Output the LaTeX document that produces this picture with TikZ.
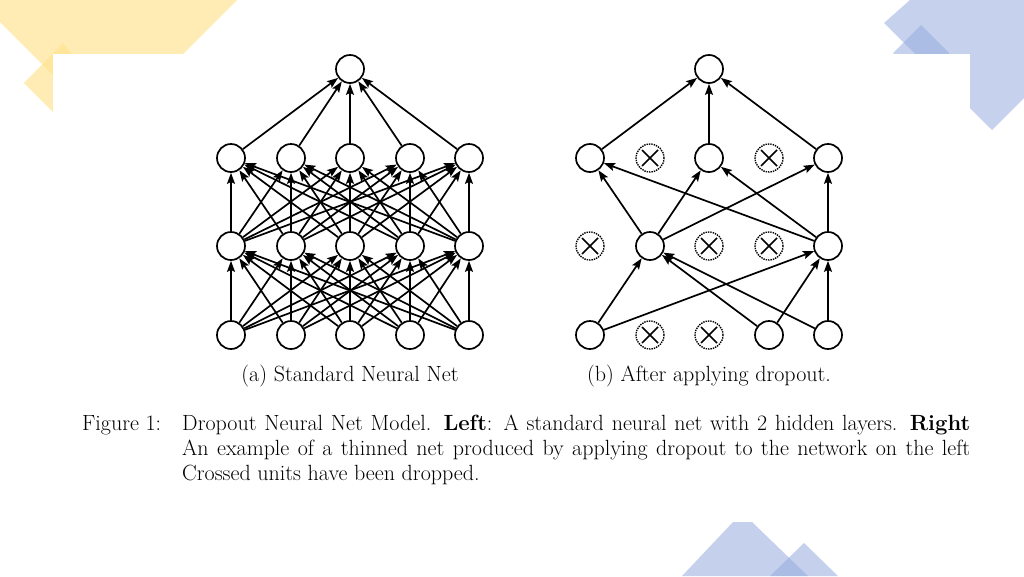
\documentclass[tikz,border=0pt]{standalone}
\usetikzlibrary{arrows.meta}
\begin{document}
\begin{tikzpicture}[x=1pt,y=-1pt,
 unit/.style={circle,draw,line width=1.7pt,minimum size=28pt,inner sep=0pt},
 drop/.style={circle,draw,densely dotted,line width=1.4pt,minimum size=28pt,inner sep=0pt,
   path picture={\draw[line width=1.6pt,solid] (path picture bounding box.center) +(-8,-8) -- +(8,8);
   \draw[line width=1.6pt,solid] (path picture bounding box.center) +(-8,8) -- +(8,-8);}},
 conn/.style={-{Stealth[length=11pt,width=8pt,inset=2pt]},line width=1.7pt},
 captxt/.style={font=\fontsize{22}{26}\selectfont,inner sep=0pt,anchor=base west}]
\useasboundingbox (0,0) rectangle (1024,576);
\definecolor{yel}{RGB}{255,226,140}
\definecolor{blu}{RGB}{150,172,222}
\fill[yel,opacity=0.65] (0,0)--(237,0)--(183,54)--(53,54)--(53,75)--(0,22)--cycle;
\fill[yel,opacity=0.65] (63,43)--(24,83)--(54,113)--(90,77)--cycle;
\fill[blu,opacity=0.55] (910,0)--(1024,0)--(1024,98)--(992,130)--(884,23)--cycle;
\fill[blu,opacity=0.55] (921,25)--(893,53)--(921,81)--(949,53)--cycle;
\fill[white] (53,54) rectangle (970,576);
\fill[blu,opacity=0.55] (682,576)--(733,522)--(752,522)--(808,576)--cycle;
\fill[blu,opacity=0.55] (770,576)--(804,543)--(838,576)--cycle;
% left net
\node[unit] (o) at (350,69) {};
\foreach \i/\x in {1/231,2/291,3/350,4/410,5/469}{
  \node[unit] (a\i) at (\x,158) {};
  \node[unit] (b\i) at (\x,246) {};
  \node[unit] (c\i) at (\x,335) {};
}
\foreach \i in {1,...,5}{
  \draw[conn] (a\i) -- (o);
  \foreach \j in {1,...,5}{
    \draw[conn] (b\i) -- (a\j);
    \draw[conn] (c\i) -- (b\j);
  }}
% right net
\node[unit] (ro) at (709,69) {};
\node[unit] (ra1) at (590,158) {};
\node[drop] (ra2) at (650,158) {};
\node[unit] (ra3) at (709,158) {};
\node[drop] (ra4) at (769,158) {};
\node[unit] (ra5) at (828,158) {};
\node[drop] (rb1) at (590,246) {};
\node[unit] (rb2) at (650,246) {};
\node[drop] (rb3) at (709,246) {};
\node[drop] (rb4) at (769,246) {};
\node[unit] (rb5) at (828,246) {};
\node[unit] (rc1) at (590,335) {};
\node[drop] (rc2) at (650,335) {};
\node[drop] (rc3) at (709,335) {};
\node[unit] (rc4) at (769,335) {};
\node[unit] (rc5) at (828,335) {};
\foreach \i in {1,3,5}{
  \draw[conn] (ra\i) -- (ro);
  \foreach \j in {2,5} \draw[conn] (rb\j) -- (ra\i);}
\foreach \i in {1,4,5}{
  \foreach \j in {2,5} \draw[conn] (rc\i) -- (rb\j);}
% captions
\node[captxt,anchor=base] (ca) at (350,381) {(a) Standard Neural Net};
\node[captxt,anchor=base] (cb) at (709,381) {(b) After applying dropout.};
\node[captxt] (f1) at (82,430) {Figure 1:};
\node[captxt] (l1) at (182,430) {\makebox[788pt][s]{Dropout Neural Net Model. \textbf{Left}: A standard neural net with 2 hidden layers. \textbf{Right}}};
\node[captxt] (l2) at (182,455) {\makebox[788pt][s]{An example of a thinned net produced by applying dropout to the network on the left}};
\node[captxt] (l3) at (182,480) {Crossed units have been dropped.};
\end{tikzpicture}
\end{document}
